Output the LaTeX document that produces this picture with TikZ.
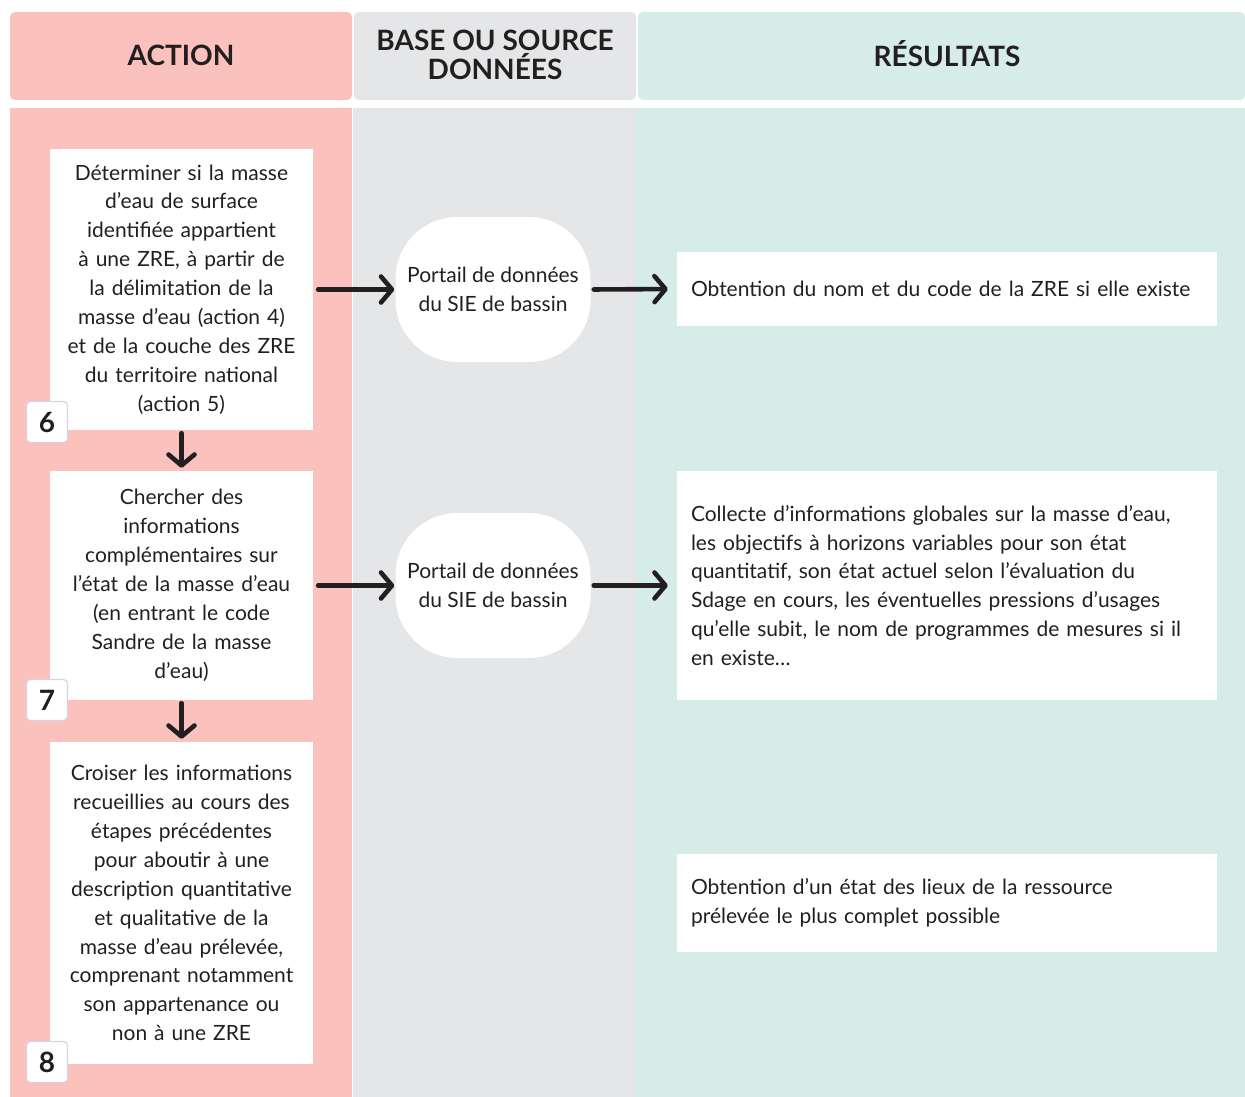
\documentclass[tikz,border=0pt]{standalone}
\usepackage{fontspec}
\setmainfont{Lato}
\usetikzlibrary{arrows.meta}
\definecolor{pinkc}{HTML}{FAC1BD}
\definecolor{greyc}{HTML}{E5E6E8}
\definecolor{tealc}{HTML}{D6ECE9}
\definecolor{ink}{HTML}{231F20}
\definecolor{badgeline}{HTML}{D9D2E2}
\begin{document}
\begin{tikzpicture}[x=1pt,y=-1pt,
  body/.style={font=\fontsize{21}{28.9}\selectfont, text=ink},
  head/.style={font=\fontsize{28}{29}\selectfont\bfseries, text=ink, align=center},
  actbox/.style={body, fill=white, align=center, minimum width=263pt, text width=255pt, inner sep=0pt},
  resbox/.style={body, fill=white, align=left, minimum width=540pt, text width=512pt, inner xsep=14pt, inner ysep=0pt},
  portal/.style={body, fill=white, align=center, minimum width=195pt, minimum height=145pt, rounded corners=62pt, inner sep=0pt},
  badge/.style={fill=white, draw=badgeline, line width=1.2pt, rounded corners=4pt, minimum size=41pt, inner sep=0pt, text=ink, font=\fontsize{28}{28}\selectfont\bfseries},
  arr/.style={draw=ink, line width=4.6pt, line cap=round, -{Straight Barb[length=11pt, width=26pt, line cap=round, line join=round]}},
]
\useasboundingbox (0,0) rectangle (1245,1097);
\fill[white] (0,0) rectangle (1245,1097);
% header backgrounds
\fill[pinkc, rounded corners=5pt] (10,100) |- (352,12) -- (352,100) -- cycle;
\fill[greyc, rounded corners=5pt] (354,100) |- (636,12) -- (636,100) -- cycle;
\fill[tealc, rounded corners=5pt] (638,100) |- (1245,12) -- (1245,100) -- cycle;
% body columns
\fill[pinkc] (10,108) rectangle (352,1097);
\fill[greyc] (353,108) rectangle (636,1097);
\fill[tealc] (636,108) rectangle (1245,1097);
% headers
\node[head] (h1) at (181,55) {ACTION};
\node[head] (h2) at (495,55) {BASE OU SOURCE\\DONNÉES};
\node[head] (h3) at (947,54) {RÉSULTATS};
% action boxes
\node[actbox, minimum height=281pt] (b6) at (181.5,289.5) {Déterminer si la masse\\d’eau de surface\\identifiée appartient\\à une ZRE, à partir de\\la délimitation de la\\masse d’eau (action 4)\\et de la couche des ZRE\\du territoire national\\(action 5)};
\node[actbox, minimum height=229pt] (b7) at (181.5,585.5) {Chercher des\\informations\\complémentaires sur\\l’état de la masse d’eau\\(en entrant le code\\Sandre de la masse\\d’eau)};
\node[actbox, minimum height=322pt] (b8) at (181.5,903) {Croiser les informations\\recueillies au cours des\\étapes précédentes\\pour aboutir à une\\description quantitative\\et qualitative de la\\masse d’eau prélevée,\\comprenant notamment\\son appartenance ou\\non à une ZRE};
% badges
\node[badge] (n6) at (47,422) {6};
\node[badge] (n7) at (47,700) {7};
\node[badge] (n8) at (47,1062) {8};
% portals
\node[portal] (p1) at (493,289.5) {Portail de données\\du SIE de bassin};
\node[portal] (p2) at (493,585.5) {Portail de données\\du SIE de bassin};
% results
\node[resbox, minimum height=74pt] (r1) at (947,289) {Obtention du nom et du code de la ZRE si elle existe};
\node[resbox, minimum height=229pt] (r2) at (947,585.5) {Collecte d’informations globales sur la masse d’eau,\\les objectifs à horizons variables pour son état\\quantitatif, son état actuel selon l’évaluation du\\Sdage en cours, les éventuelles pressions d’usages\\qu’elle subit, le nom de programmes de mesures si il\\en existe…};
\node[resbox, minimum height=98pt] (r3) at (947,903) {Obtention d’un état des lieux de la ressource\\prélevée le plus complet possible};
% arrows
\draw[arr, shorten <=5pt, shorten >=1pt] (b6.east) -- (p1.west);
\draw[arr, shorten <=3pt, shorten >=9pt] (p1.east) -- (r1.west);
\draw[arr, shorten <=5pt, shorten >=1pt] (b7.east) -- (p2.west);
\draw[arr, shorten <=3pt, shorten >=9pt] (p2.east) -- (r2.west);
\draw[arr, shorten <=3pt, shorten >=3pt] (b6.south) -- (b7.north);
\draw[arr, shorten <=3pt, shorten >=3pt] (b7.south) -- (b8.north);
\end{tikzpicture}
\end{document}
